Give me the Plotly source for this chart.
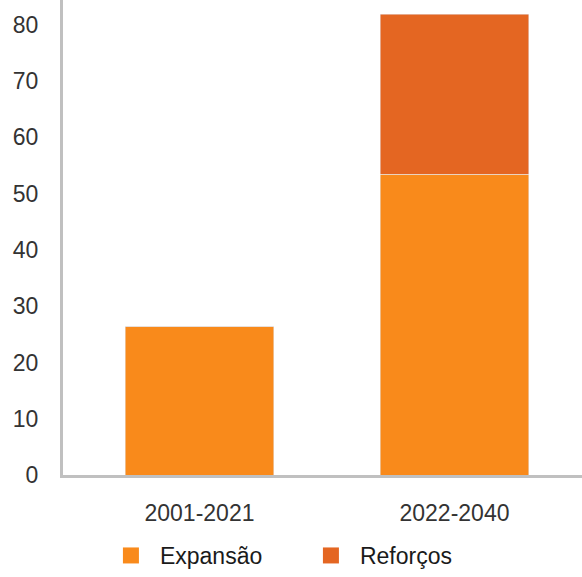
import plotly.graph_objects as go

# Periods and investment figures per category
periods = ["2001-2021", "2022-2040"]
expansao = [26.4, 53.4]
reforcos = [0, 28.5]
y_ticks = [0, 10, 20, 30, 40, 50, 60, 70, 80]

c_exp = "#F98A1B"
c_ref = "#E46622"
font_family = "Arial, Liberation Sans, sans-serif"

fig = go.Figure()
fig.add_trace(go.Bar(x=periods, y=expansao, name="Expansão", marker_color=c_exp,
                     showlegend=False, hoverinfo="y"))
fig.add_trace(go.Bar(x=periods, y=reforcos, name="Reforços", marker_color=c_ref,
                     showlegend=False, hoverinfo="y"))

# Legend entries with larger square swatches
for name, col in [("Expansão", c_exp), ("Reforços", c_ref)]:
    fig.add_trace(go.Scatter(x=[None], y=[None], mode="markers", name=name,
                             marker=dict(symbol="square", size=18, color=col)))

fig.update_layout(
    width=582, height=577,
    margin=dict(l=63, r=0, t=0, b=101),
    barmode="stack",
    bargap=0.416,
    plot_bgcolor="white",
    paper_bgcolor="white",
    font=dict(family=font_family, size=23, color="#333333"),
    showlegend=True,
    legend=dict(orientation="h", traceorder="normal", x=0.075, xanchor="left",
                y=-0.169, yanchor="middle", itemwidth=48, entrywidth=137,
                font=dict(size=23, color="#1a1a1a"), bgcolor="rgba(0,0,0,0)"),
    xaxis=dict(range=[-0.5353, 1.5], showline=True, linecolor="#c0c0c0", linewidth=3,
               showgrid=False, zeroline=False, ticks="", ticklabelstandoff=15,
               tickfont=dict(size=23, color="#333333")),
    yaxis=dict(range=[0, 84.4], tickvals=y_ticks, showline=True, linecolor="#c0c0c0",
               linewidth=3, showgrid=False, zeroline=False, ticks="",
               ticklabelstandoff=17, tickfont=dict(size=23, color="#333333")),
)

fig.write_html("out.html")
